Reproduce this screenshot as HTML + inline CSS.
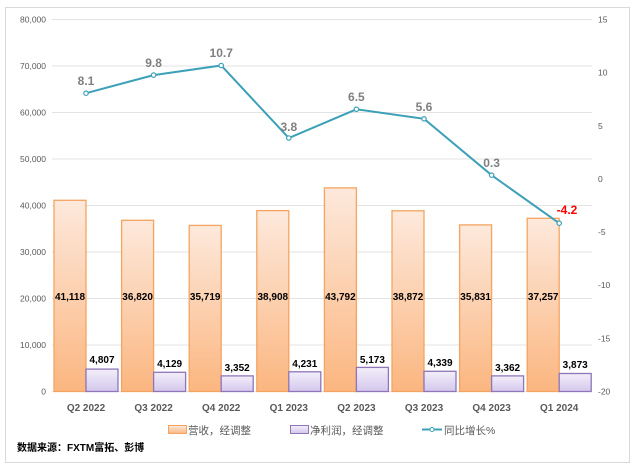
<!DOCTYPE html>
<html><head><meta charset="utf-8"><style>
body{margin:0;background:#fff;}
svg text{font-family:"Liberation Sans","Noto Sans CJK SC",sans-serif;}
</style></head><body>
<svg width="635" height="468" viewBox="0 0 635 468" xmlns="http://www.w3.org/2000/svg">
<defs>
<linearGradient id="og" x1="0" y1="0" x2="0" y2="1"><stop offset="0" stop-color="#fde9dc"/><stop offset="1" stop-color="#fbb680"/></linearGradient>
<linearGradient id="pg" x1="0" y1="0" x2="0" y2="1"><stop offset="0" stop-color="#f3effa"/><stop offset="1" stop-color="#d4c7ec"/></linearGradient>
</defs>
<rect x="5.5" y="7.5" width="624" height="455" fill="#fff" stroke="#d9d9d9"/>
<g stroke="#e3e3e3" stroke-width="1">
<line x1="52" x2="592" y1="19.5" y2="19.5"/><line x1="52" x2="592" y1="66" y2="66"/>
<line x1="52" x2="592" y1="112.5" y2="112.5"/><line x1="52" x2="592" y1="159" y2="159"/>
<line x1="52" x2="592" y1="205.5" y2="205.5"/><line x1="52" x2="592" y1="252" y2="252"/>
<line x1="52" x2="592" y1="298.5" y2="298.5"/><line x1="52" x2="592" y1="345" y2="345"/>
<line x1="52" x2="592" y1="391.5" y2="391.5"/>
</g>
<g font-size="8.5" fill="#595959" text-anchor="end">
<text x="46" y="22.5">80,000</text><text x="46" y="69">70,000</text><text x="46" y="115.5">60,000</text>
<text x="46" y="162">50,000</text><text x="46" y="208.5">40,000</text><text x="46" y="255">30,000</text>
<text x="46" y="301.5">20,000</text><text x="46" y="348">10,000</text><text x="46" y="394.5">0</text>
</g>
<g font-size="8.5" fill="#595959" text-anchor="start">
<text x="598" y="22.5">15</text><text x="598" y="75.6">10</text><text x="598" y="128.8">5</text>
<text x="598" y="181.9">0</text><text x="598" y="235">-5</text><text x="598" y="288.2">-10</text>
<text x="598" y="341.3">-15</text><text x="598" y="394.5">-20</text>
</g>
<g stroke="#f4a460" stroke-width="1.3" fill="url(#og)">
<rect x="54" y="200.3" width="32" height="191.2"/>
<rect x="121.6" y="220.3" width="32" height="171.2"/>
<rect x="189.2" y="225.4" width="32" height="166.1"/>
<rect x="256.8" y="210.6" width="32" height="180.9"/>
<rect x="324.4" y="187.9" width="32" height="203.6"/>
<rect x="392" y="210.8" width="32" height="180.7"/>
<rect x="459.6" y="224.9" width="32" height="166.6"/>
<rect x="527.2" y="218.3" width="32" height="173.2"/>
</g>
<g stroke="#8e76b8" stroke-width="1.3" fill="url(#pg)">
<rect x="86" y="369.1" width="32" height="22.4"/>
<rect x="153.6" y="372.3" width="32" height="19.2"/>
<rect x="221.2" y="375.9" width="32" height="15.6"/>
<rect x="288.8" y="371.8" width="32" height="19.7"/>
<rect x="356.4" y="367.4" width="32" height="24.1"/>
<rect x="424" y="371.3" width="32" height="20.2"/>
<rect x="491.6" y="375.9" width="32" height="15.6"/>
<rect x="559.2" y="373.5" width="32" height="18"/>
</g>
<g font-size="10" font-weight="bold" fill="#000" text-anchor="middle">
<text x="70" y="300">41,118</text><text x="137.6" y="300">36,820</text><text x="205.2" y="300">35,719</text>
<text x="272.8" y="300">38,908</text><text x="340.4" y="300">43,792</text><text x="408" y="300">38,872</text>
<text x="475.6" y="300">35,831</text><text x="543.2" y="300">37,257</text>
<text x="102" y="363">4,807</text><text x="169.6" y="367">4,129</text><text x="237.2" y="371">3,352</text>
<text x="304.8" y="367">4,231</text><text x="372.4" y="363">5,173</text><text x="440" y="366">4,339</text>
<text x="507.6" y="371">3,362</text><text x="575.2" y="368">3,873</text>
</g>
<polyline fill="none" stroke="#3ca0b8" stroke-width="2" points="86,93.2 153.6,75.1 221.2,65.5 288.8,138 356.4,109.3 424,118.8 491.6,175.2 559.2,223.2"/>
<g fill="#fff" stroke="#3ca0b8" stroke-width="1.2">
<circle cx="86" cy="93.2" r="2.2"/><circle cx="153.6" cy="75.1" r="2.2"/><circle cx="221.2" cy="65.5" r="2.2"/>
<circle cx="288.8" cy="138" r="2.2"/><circle cx="356.4" cy="109.3" r="2.2"/><circle cx="424" cy="118.8" r="2.2"/>
<circle cx="491.6" cy="175.2" r="2.2"/><circle cx="559.2" cy="223.2" r="2.2"/>
</g>
<g font-size="12" font-weight="bold" fill="#7f7f7f" text-anchor="middle">
<text x="86" y="85">8.1</text><text x="153.6" y="67">9.8</text><text x="221.2" y="57">10.7</text>
<text x="288.8" y="131">3.8</text><text x="356.4" y="101">6.5</text><text x="424" y="111">5.6</text>
<text x="491.6" y="167">0.3</text><text x="567" y="214" fill="#ff0000">-4.2</text>
</g>
<g font-size="10" font-weight="bold" fill="#595959" text-anchor="middle">
<text x="86" y="411">Q2 2022</text><text x="153.6" y="411">Q3 2022</text><text x="221.2" y="411">Q4 2022</text>
<text x="288.8" y="411">Q1 2023</text><text x="356.4" y="411">Q2 2023</text><text x="424" y="411">Q3 2023</text>
<text x="491.6" y="411">Q4 2023</text><text x="559.2" y="411">Q1 2024</text>
</g>
<rect x="168.5" y="425.5" width="18" height="8" fill="url(#og)" stroke="#f4a460"/>
<text x="188" y="434" font-size="10.5" fill="#595959">营收，经调整</text>
<rect x="290.5" y="425.5" width="18" height="8" fill="url(#pg)" stroke="#8e76b8"/>
<text x="310" y="434" font-size="10.5" fill="#595959">净利润，经调整</text>
<line x1="422" x2="442" y1="429.5" y2="429.5" stroke="#3ca0b8" stroke-width="2"/>
<circle cx="432" cy="429.5" r="2" fill="#fff" stroke="#3ca0b8"/>
<text x="444" y="434" font-size="10.5" fill="#595959">同比增长%</text>
<text x="17" y="451" font-size="10" font-weight="bold" fill="#000">数据来源：FXTM富拓、彭博</text>
</svg>
</body></html>
